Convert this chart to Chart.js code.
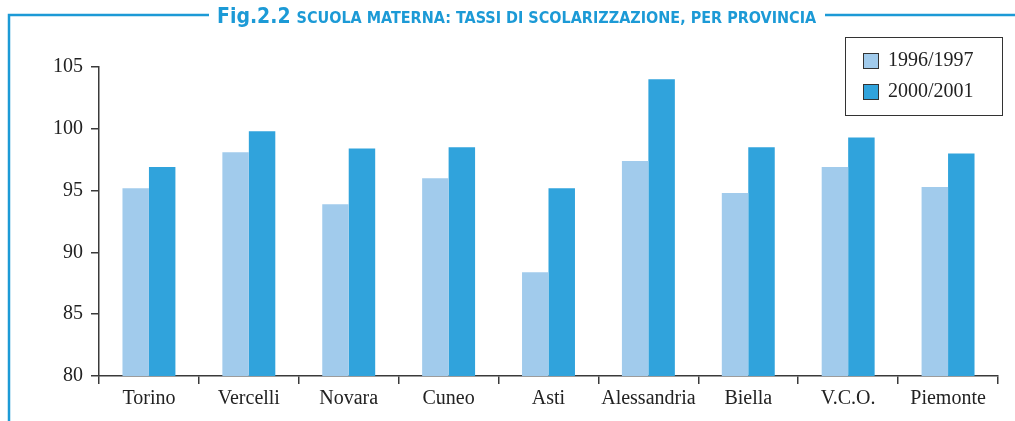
<!DOCTYPE html>
<html><head><meta charset="utf-8">
<script src="https://cdn.jsdelivr.net/npm/chart.js@4"></script>
<style>html,body{margin:0;padding:0;background:#fff;}#wrap{width:1015px;height:421px;position:relative;}</style>
</head><body><div id="wrap"><canvas id="c" width="1015" height="421"></canvas></div>
<script>
const categories = ["Torino","Vercelli","Novara","Cuneo","Asti","Alessandria","Biella","V.C.O.","Piemonte"];
const series1996 = [95.2, 98.1, 93.9, 96.0, 88.4, 97.4, 94.8, 96.9, 95.3];
const series2000 = [96.9, 99.8, 98.4, 98.5, 95.2, 104.0, 98.5, 99.3, 98.0];
const seriesLabels = ["1996/1997","2000/2001"];
const yTicks = [80, 85, 90, 95, 100, 105];

const LIGHT = "#a1cbec", DARK = "#30a3dc", FRAME = "#1c9ad6", AXIS = "#3a3a3a";

const framePlugin = {
  id: "frame",
  afterDraw(chart) {
    const ctx = chart.ctx;
    ctx.save();
    // frame
    ctx.strokeStyle = FRAME; ctx.lineWidth = 2.5;
    ctx.beginPath();
    ctx.moveTo(9, 421); ctx.lineTo(9, 15); ctx.lineTo(209, 15);
    ctx.moveTo(825, 15); ctx.lineTo(1015, 15);
    ctx.stroke();
    // title
    ctx.fillStyle = FRAME; ctx.textBaseline = "alphabetic"; ctx.textAlign = "left";
    ctx.font = "bold 21px 'DejaVu Sans Condensed', 'DejaVu Sans'";
    ctx.fillText("Fig.2.2", 217, 23);
    let w = ctx.measureText("Fig.2.2").width;
    ctx.font = "bold 16px 'DejaVu Sans Condensed', 'DejaVu Sans'";
    ctx.fillText("SCUOLA MATERNA: TASSI DI SCOLARIZZAZIONE, PER PROVINCIA", 217 + w + 6, 23);
    // legend
    ctx.strokeStyle = "#333"; ctx.lineWidth = 1;
    ctx.strokeRect(845.5, 37.5, 157, 78);
    ctx.font = "20px 'Liberation Serif'";
    ctx.textBaseline = "middle";
    const cols = [LIGHT, DARK];
    chart.data.datasets.forEach((ds, i) => {
      const y = 61 + i * 31;
      ctx.fillStyle = cols[i];
      ctx.fillRect(863, y - 8, 16, 16);
      ctx.strokeStyle = "#333";
      ctx.strokeRect(863.5, y - 7.5, 15, 15);
      ctx.fillStyle = "#222";
      ctx.fillText(ds.label, 888, y);
    });
    ctx.restore();
  }
};

new Chart(document.getElementById("c"), {
  type: "bar",
  data: {
    labels: categories,
    datasets: [
      { label: seriesLabels[0], data: series1996, backgroundColor: LIGHT, barPercentage: 1, categoryPercentage: 0.53 },
      { label: seriesLabels[1], data: series2000, backgroundColor: DARK, barPercentage: 1, categoryPercentage: 0.53 }
    ]
  },
  options: {
    responsive: false,
    animation: false,
    layout: { padding: { top: 67, right: 17, left: 0, bottom: 0 } },
    plugins: { legend: { display: false }, tooltip: { enabled: false }, title: { display: false } },
    scales: {
      x: {
        afterFit(s) { s.height = 45; },
        grid: { display: true, drawOnChartArea: false, drawTicks: true, tickLength: 8, color: AXIS, offset: true, lineWidth: 1.5 },
        border: { display: true, color: AXIS, width: 1.5 },
        ticks: { color: "#222", font: { family: "'Liberation Serif'", size: 20 }, padding: 3, maxRotation: 0, minRotation: 0, autoSkip: false }
      },
      y: {
        min: 80, max: 105,
        afterFit(s) { s.width = 99; },
        afterBuildTicks(s) { s.ticks = yTicks.map(v => ({ value: v })); },
        grid: { display: true, drawOnChartArea: false, drawTicks: true, tickLength: 8, color: AXIS, lineWidth: 1.5 },
        border: { display: true, color: AXIS, width: 1.5 },
        ticks: { color: "#222", font: { family: "'Liberation Serif'", size: 20 }, padding: 8 }
      }
    }
  },
  plugins: [framePlugin]
});
</script>
</body></html>
